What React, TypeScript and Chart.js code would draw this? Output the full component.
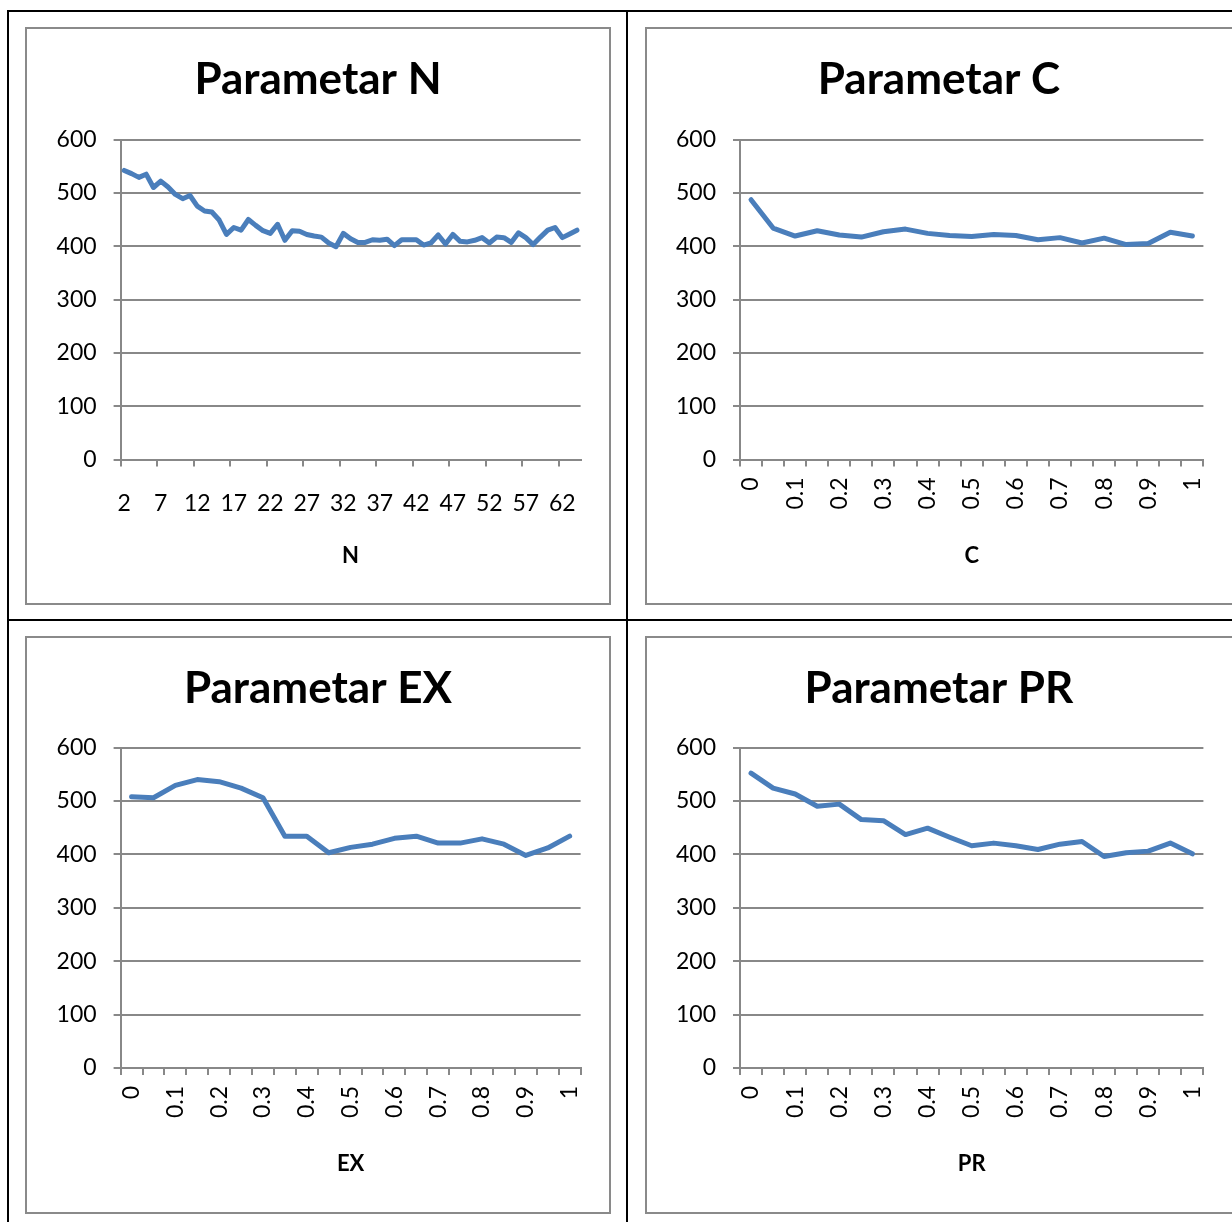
import React, { useEffect, useRef } from 'react';
import { Chart, registerables } from 'chart.js';

Chart.register(...registerables);

// ---------- data ----------
const nCategories = ['2','3','4','5','6','7','8','9','10','11','12','13','14','15','16','17','18','19','20','21','22','23','24','25','26','27','28','29','30','31','32','33','34','35','36','37','38','39','40','41','42','43','44','45','46','47','48','49','50','51','52','53','54','55','56','57','58','59','60','61','62','63','64'];
const nValues = [
  542, 536, 529, 535, 510, 522, 511, 497, 489, 495,
  475, 466, 464, 449, 422, 435, 430, 450, 439, 429,
  424, 441, 411, 429, 428, 422, 419, 417, 406, 399,
  424, 414, 407, 407, 412, 411, 413, 401, 412, 412,
  412, 402, 406, 421, 404, 422, 409, 408, 411, 416,
  406, 417, 416, 407, 425, 416, 403, 417, 430, 435,
  416, 423, 430,
];

const fracCategories = ['0','0.05','0.1','0.15','0.2','0.25','0.3','0.35','0.4','0.45','0.5','0.55','0.6','0.65','0.7','0.75','0.8','0.85','0.9','0.95','1'];
const cValues = [487, 434, 419, 429, 421, 417, 427, 432, 424, 420, 418, 422, 420, 412, 416, 406, 415, 403, 405, 426, 419];
const exValues = [508, 506, 529, 540, 536, 524, 506, 434, 434, 403, 413, 419, 430, 434, 421, 421, 429, 419, 398, 412, 434];
const prValues = [552, 524, 513, 490, 494, 465, 463, 437, 449, 432, 416, 421, 416, 409, 419, 424, 396, 403, 406, 421, 401];

const yMin = 0;
const yMax = 600;
const yStep = 100;

const titles = ['Parametar N', 'Parametar C', 'Parametar EX', 'Parametar PR'];
const axisTitles = ['N', 'C', 'EX', 'PR'];

// ---------- styles ----------
const BLUE = '#4a7ebb';
const GRID = '#888888';
const FONT = 'Lato';

type Spec = {
  title: string;
  axisTitle: string;
  labels: string[];
  values: number[];
  every: number;
  rotate: number;
  left: number;
  top: number;
  boxWidth: number;
  width: number;
  height: number;
  plotLeft: number;
  plotRight: number;
  plotTop: number;
  plotBottom: number;
  titleY: number;
  axisTitleY: number;
  labelPad: number;
};

const specs: Spec[] = [
  {
    title: titles[0], axisTitle: axisTitles[0], labels: nCategories, values: nValues,
    every: 5, rotate: 0, left: 25, top: 27, boxWidth: 586, width: 586, height: 578,
    plotLeft: 95.6, plotRight: 555.6, plotTop: 112.5, plotBottom: 432.5,
    titleY: 53, axisTitleY: 529, labelPad: 23,
  },
  {
    title: titles[1], axisTitle: axisTitles[1], labels: fracCategories, values: cValues,
    every: 2, rotate: 90, left: 645, top: 27, boxWidth: 600, width: 588, height: 578,
    plotLeft: 95, plotRight: 558.4, plotTop: 112.5, plotBottom: 432.5,
    titleY: 53, axisTitleY: 529, labelPad: 11,
  },
  {
    title: titles[2], axisTitle: axisTitles[2], labels: fracCategories, values: exValues,
    every: 2, rotate: 90, left: 25, top: 636, boxWidth: 586, width: 586, height: 578,
    plotLeft: 95.6, plotRight: 555.6, plotTop: 111.5, plotBottom: 432,
    titleY: 53, axisTitleY: 528, labelPad: 11,
  },
  {
    title: titles[3], axisTitle: axisTitles[3], labels: fracCategories, values: prValues,
    every: 2, rotate: 90, left: 645, top: 636, boxWidth: 600, width: 588, height: 578,
    plotLeft: 95, plotRight: 558.4, plotTop: 111.5, plotBottom: 432,
    titleY: 53, axisTitleY: 528, labelPad: 11,
  },
];

function ChartBox({ spec }: { spec: Spec }) {
  const ref = useRef<HTMLCanvasElement | null>(null);

  useEffect(() => {
    const canvas = ref.current;
    if (!canvas) return;
    const pad = spec.width - spec.plotRight;
    const titleSize = 44;
    const titleLH = titleSize * 1.2;
    const axisSize = 22;
    const axisLH = axisSize * 1.2;

    const chart = new Chart(canvas, {
      type: 'line',
      data: {
        labels: spec.labels,
        datasets: [
          {
            data: spec.values,
            borderColor: BLUE,
            backgroundColor: BLUE,
            borderWidth: 5,
            pointRadius: 0,
            pointHoverRadius: 0,
            tension: 0,
            fill: false,
            borderJoinStyle: 'round',
            borderCapStyle: 'round',
          },
        ],
      },
      options: {
        responsive: false,
        animation: false,
        devicePixelRatio: 1,
        events: [],
        layout: { padding: { left: pad, right: pad, top: 0, bottom: 0 } },
        plugins: {
          legend: { display: false },
          tooltip: { enabled: false },
          title: {
            display: true,
            text: spec.title,
            color: '#000000',
            font: { family: FONT, size: titleSize, weight: 'bold', lineHeight: 1.2 },
            padding: {
              top: spec.titleY - titleLH / 2,
              bottom: spec.plotTop - spec.titleY - titleLH / 2,
            },
          },
        },
        scales: {
          x: {
            type: 'category',
            offset: true,
            grid: {
              display: true,
              offset: true,
              drawOnChartArea: false,
              drawTicks: true,
              tickLength: 7,
              lineWidth: 2,
              color: (ctx: any) => {
                if (spec.every <= 2) return GRID;
                if (ctx.index === undefined || ctx.type !== 'tick') return 'rgba(0,0,0,0)';
                return ctx.index % spec.every === 0 ? GRID : 'rgba(0,0,0,0)';
              },
            },
            border: { display: true, color: GRID, width: 2 },
            ticks: {
              autoSkip: false,
              maxRotation: spec.rotate,
              minRotation: spec.rotate,
              padding: spec.labelPad,
              color: '#000000',
              font: { family: FONT, size: 23 },
              callback: (_v: any, idx: number) => (idx % spec.every === 0 ? spec.labels[idx] : ''),
            },
            title: {
              display: true,
              text: spec.axisTitle,
              color: '#000000',
              font: { family: FONT, size: axisSize, weight: 'bold', lineHeight: 1.2 },
              padding: { top: 0, bottom: spec.height - spec.axisTitleY - axisLH / 2 },
            },
            afterFit: (s: any) => {
              s.height = spec.height - spec.plotBottom;
            },
          },
          y: {
            min: yMin,
            max: yMax,
            ticks: {
              stepSize: yStep,
              padding: 17,
              color: '#000000',
              font: { family: FONT, size: 23 },
            },
            grid: {
              display: true,
              color: GRID,
              lineWidth: 2,
              drawTicks: true,
              tickLength: 7,
            },
            border: { display: true, color: GRID, width: 2 },
            afterFit: (s: any) => {
              s.width = spec.plotLeft - pad;
            },
          },
        },
      },
    } as any);

    return () => {
      chart.destroy();
    };
  }, [spec]);

  return (
    <>
      <div
        style={{
          position: 'absolute',
          left: spec.left,
          top: spec.top,
          width: spec.boxWidth,
          height: spec.height,
          border: '2px solid #8a8a8a',
          boxSizing: 'border-box',
          background: '#ffffff',
        }}
      />
      <canvas
        ref={ref}
        width={spec.width}
        height={spec.height}
        style={{
          position: 'absolute',
          left: spec.left,
          top: spec.top,
          width: spec.width,
          height: spec.height,
        }}
      />
    </>
  );
}

export default function App() {
  useEffect(() => {
    document.body.style.margin = '0';
    document.body.style.overflow = 'hidden';
  }, []);

  const line = (l: number, t: number, w: number, h: number) => (
    <div style={{ position: 'absolute', left: l, top: t, width: w, height: h, background: '#000000' }} />
  );

  return (
    <div
      style={{
        position: 'absolute',
        left: 0,
        top: 0,
        width: 1232,
        height: 1222,
        overflow: 'hidden',
        background: '#ffffff',
      }}
    >
      {line(7, 10, 1240, 2)}
      {line(7, 10, 2, 1220)}
      {line(626, 10, 2, 1220)}
      {line(7, 619, 1240, 2)}
      {specs.map((s, i) => (
        <ChartBox key={i} spec={s} />
      ))}
    </div>
  );
}
